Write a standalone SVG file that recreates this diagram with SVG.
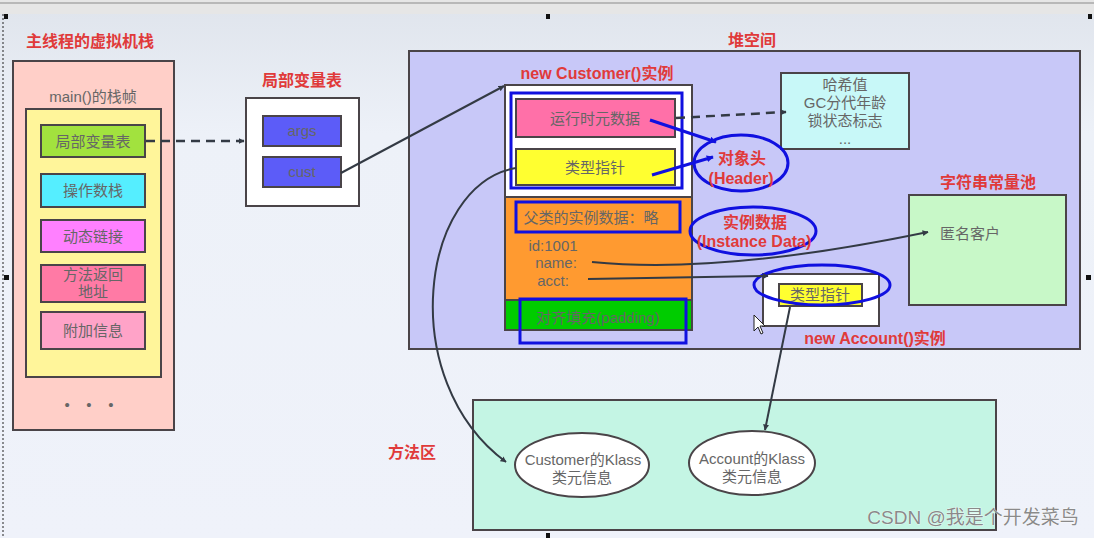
<svg xmlns="http://www.w3.org/2000/svg" width="1094" height="538" viewBox="0 0 1094 538">
<defs>
<marker id="ah" viewBox="0 0 10 10" refX="9" refY="5" markerWidth="6" markerHeight="6" orient="auto" markerUnits="userSpaceOnUse">
<path d="M0,0 L10,5 L0,10 Z" fill="#333a44"/>
</marker>
<marker id="ahb" viewBox="0 0 10 10" refX="9" refY="5" markerWidth="7" markerHeight="7" orient="auto" markerUnits="userSpaceOnUse">
<path d="M0,0 L10,5 L0,10 Z" fill="#1010e0"/>
</marker>
<linearGradient id="bg" x1="0" y1="0" x2="0" y2="1">
<stop offset="0" stop-color="#dfe4ec"/>
<stop offset="0.25" stop-color="#edf1f8"/>
<stop offset="1" stop-color="#eff2fa"/>
</linearGradient>
</defs>
<style>
text{font-family:"Liberation Sans","Noto Sans CJK SC",sans-serif;text-anchor:middle}
.t{fill:#e03a3a;font-weight:bold;font-size:16px}
.g{fill:#666;font-size:15px}
.box{stroke:#4a4448;stroke-width:2}
.blue{fill:none;stroke:#1010e0;stroke-width:3}
.ln{fill:none;stroke:#333a44;stroke-width:2}
.dash{fill:none;stroke:#333a44;stroke-width:2.5;stroke-dasharray:9,6}
</style>
<rect x="0" y="0" width="1094" height="538" fill="url(#bg)"/>
<rect x="0" y="0" width="1094" height="14" fill="#e6e6e6"/>
<line x1="0" y1="3" x2="1094" y2="3" stroke="#b8b8b8" stroke-width="2"/>
<line x1="3" y1="14" x2="3" y2="538" stroke="#222" stroke-width="1" stroke-dasharray="2,2"/>
<g fill="#111">
<rect x="4" y="14" width="4" height="5"/><rect x="546" y="14" width="4" height="5"/><rect x="1088" y="14" width="4" height="5"/>
<rect x="4" y="275" width="5" height="5"/><rect x="1086" y="275" width="5" height="5"/><rect x="546" y="533" width="4" height="5"/>
</g>

<g id="stack">
<text class="t" x="90" y="47" font-size="16">主线程的虚拟机栈</text>
<rect class="box" x="13" y="61" width="161" height="369" fill="#ffcfc8"/>
<text class="g" x="93" y="102">main()的栈帧</text>
<rect class="box" x="26" y="109" width="135" height="268" fill="#fff59a"/>
<rect class="box" x="41" y="125" width="104" height="32" fill="#a2e23e"/>
<text class="g" x="93" y="147">局部变量表</text>
<rect class="box" x="41" y="174" width="104" height="33" fill="#55eeff"/>
<text class="g" x="93" y="196">操作数栈</text>
<rect class="box" x="41" y="220" width="104" height="32" fill="#ff80ff"/>
<text class="g" x="93" y="242" fill="#7a4a9a">动态链接</text>
<rect class="box" x="41" y="265" width="104" height="37" fill="#ff7aa5"/>
<text class="g" x="93" y="280" font-size="14">方法返回</text>
<text class="g" x="93" y="297" font-size="14">地址</text>
<rect class="box" x="41" y="312" width="104" height="37" fill="#ffa3c8"/>
<text class="g" x="93" y="336">附加信息</text>
<text class="g" x="89" y="410" font-size="12" xml:space="preserve">•    •    •</text>
</g>

<g id="localvars">
<text class="t" x="302" y="86">局部变量表</text>
<rect class="box" x="246" y="98" width="113" height="108" fill="#fff"/>
<rect class="box" x="263" y="116" width="78" height="30" fill="#5c5cf8"/>
<text class="g" x="302" y="136" fill="#4a4a90">args</text>
<rect class="box" x="263" y="157" width="78" height="30" fill="#5c5cf8"/>
<text class="g" x="302" y="177" fill="#4a4a90">cust</text>
</g>

<g id="heap">
<text class="t" x="752" y="46">堆空间</text>
<rect class="box" x="409" y="51" width="671" height="298" fill="#c8c8f8"/>
</g>

<g id="customer">
<text class="t" x="597" y="79">new Customer()实例</text>
<rect class="box" x="505" y="85" width="187" height="245" fill="#fff"/>
<rect x="505" y="197" width="187" height="103" fill="#ff9a30" stroke="#4a4448" stroke-width="2"/>
<rect x="505" y="300" width="187" height="30" fill="#00cc00" stroke="#4a4448" stroke-width="2"/>
<rect class="box" x="516" y="99" width="159" height="38" fill="#ff70a8"/>
<text class="g" x="595" y="124">运行时元数据</text>
<rect class="box" x="516" y="149" width="159" height="36" fill="#ffff30"/>
<text class="g" x="595" y="173" font-size="14">类型指针</text>
<rect class="blue" x="511" y="93" width="171" height="95"/>
<rect class="blue" x="516" y="202" width="164" height="30"/>
<text class="g" x="591" y="223" fill="#805030">父类的实例数据：略</text>
<text class="g" x="553" y="251" font-size="14" fill="#7a5030">id:1001</text>
<text class="g" x="556" y="268" font-size="14" fill="#7a5030">name:</text>
<text class="g" x="553" y="286" font-size="14" fill="#7a5030">acct:</text>
<text class="g" x="598" y="323" fill="#3a6a3a">对齐填充(padding)</text>
<rect class="blue" x="520" y="299" width="166" height="44"/>
</g>

<g id="hash">
<rect class="box" x="781" y="73" width="128" height="76" fill="#c8f8f8"/>
<text class="g" x="845" y="90">哈希值</text>
<text class="g" x="845" y="108">GC分代年龄</text>
<text class="g" x="845" y="126">锁状态标志</text>
<text class="g" x="845" y="144" font-size="10">...</text>
</g>

<g id="header">
<ellipse class="blue" cx="741" cy="163" rx="47" ry="28"/>
<text class="t" x="742" y="164" font-size="15">对象头</text>
<text class="t" x="741" y="184" font-size="15">(Header)</text>
</g>

<g id="instancedata">
<ellipse class="blue" cx="753" cy="231" rx="63" ry="24"/>
<text class="t" x="755" y="228">实例数据</text>
<text class="t" x="754" y="247">(Instance Data)</text>
</g>

<g id="stringpool">
<text class="t" x="988" y="188">字符串常量池</text>
<rect class="box" x="909" y="195" width="157" height="110" fill="#c8f8c8"/>
<text class="g" x="970" y="239" fill="#e070e0">匿名客户</text>
</g>

<g id="account">
<rect class="box" x="763" y="274" width="116" height="52" fill="#fff"/>
<rect class="box" x="779" y="284" width="83" height="22" fill="#ffff30"/>
<text class="g" x="820" y="300" font-size="13">类型指针</text>
<ellipse class="blue" cx="822" cy="285" rx="68" ry="20"/>
<text class="t" x="875" y="344">new Account()实例</text>
</g>

<g id="methodarea">
<text class="t" x="412" y="458">方法区</text>
<rect class="box" x="473" y="400" width="523" height="130" fill="#c4f5e4"/>
<ellipse class="box" cx="582" cy="465" rx="67" ry="32" fill="#fff"/>
<text class="g" x="583" y="465">Customer的Klass</text>
<text class="g" x="582" y="483">类元信息</text>
<ellipse class="box" cx="752" cy="463" rx="63" ry="32" fill="#fff"/>
<text class="g" x="752" y="464">Account的Klass</text>
<text class="g" x="752" y="482">类元信息</text>
</g>

<g id="connectors">
<line class="dash" x1="146" y1="141" x2="244" y2="141" marker-end="url(#ah)"/>
<line class="ln" x1="341" y1="173" x2="504" y2="86" marker-end="url(#ah)"/>
<line class="dash" x1="676" y1="118" x2="786" y2="112" marker-end="url(#ah)"/>
<line x1="650" y1="120" x2="716" y2="142" stroke="#1010e0" stroke-width="3" marker-end="url(#ahb)"/>
<line x1="652" y1="175" x2="713" y2="157" stroke="#1010e0" stroke-width="3" marker-end="url(#ahb)"/>
<path class="ln" d="M592,262 Q720,275 928,232" marker-end="url(#ah)"/>
<line class="ln" x1="588" y1="279" x2="768" y2="276" marker-end="url(#ah)"/>
<path class="ln" d="M516,168 C420,185 395,380 506,462" marker-end="url(#ah)"/>
<line class="ln" x1="790" y1="307" x2="765" y2="430" marker-end="url(#ah)"/>
</g>

<path d="M754,315 L754,331 L758,327 L761,334 L763,333 L760,326 L765,326 Z" fill="#fff" stroke="#222" stroke-width="1"/>
<text x="973" y="524" font-size="19" fill="#8a8a8a" stroke="#fff" stroke-width="0.6" paint-order="stroke">CSDN @我是个开发菜鸟</text>
</svg>
